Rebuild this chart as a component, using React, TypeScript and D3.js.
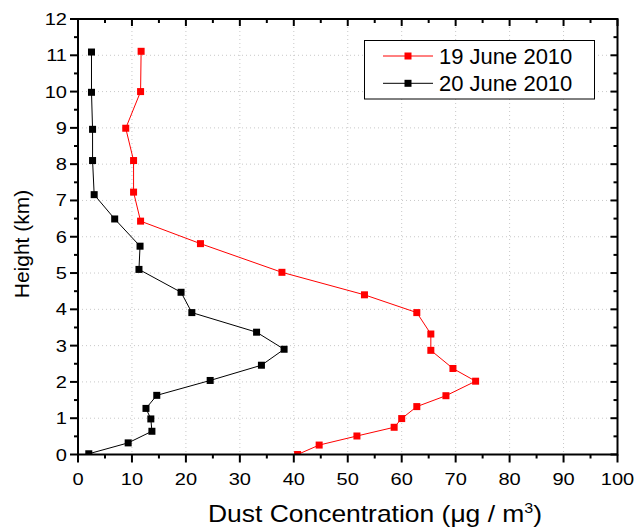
import React from "react";
import * as d3 from "d3";

const heights19 = [0, 0.26, 0.51, 0.75, 0.99, 1.32, 1.62, 2.02, 2.37, 2.87, 3.32, 3.91, 4.4, 5.02, 5.81, 6.43, 7.23, 8.1, 8.99, 10.0, 11.11];
const conc19 = [40.7, 44.7, 51.7, 58.6, 60.0, 62.8, 68.2, 73.7, 69.5, 65.4, 65.4, 62.8, 53.1, 37.8, 22.7, 11.6, 10.3, 10.3, 8.85, 11.6, 11.7];

const heights20 = [0.02, 0.32, 0.64, 0.98, 1.27, 1.63, 2.04, 2.46, 2.9, 3.37, 3.91, 4.47, 5.1, 5.74, 6.49, 7.16, 8.1, 8.96, 9.98, 11.09];
const conc20 = [2.0, 9.3, 13.7, 13.5, 12.6, 14.6, 24.5, 34.0, 38.2, 33.1, 21.1, 19.1, 11.3, 11.5, 6.8, 3.0, 2.7, 2.7, 2.5, 2.5];

const xTicks = [0, 10, 20, 30, 40, 50, 60, 70, 80, 90, 100];
const yTicks = [0, 1, 2, 3, 4, 5, 6, 7, 8, 9, 10, 11, 12];
const seriesNames = ["19 June 2010", "20 June 2010"];
const seriesColors = ["#ff0000", "#000000"];

const W = 634, H = 527;
const L = 78, R = 617.5, T = 19, B = 454.5;
const FONT = "'Liberation Sans', Arial, sans-serif";
const SX = 1.18;

export default function App() {
  const x = d3.scaleLinear().domain([0, 100]).range([L, R]);
  const y = d3.scaleLinear().domain([0, 12]).range([B, T]);
  const line = d3.line<[number, number]>().x(d => x(d[0])).y(d => y(d[1]));
  const series = [
    conc19.map((c, i) => [c, heights19[i]] as [number, number]),
    conc20.map((c, i) => [c, heights20[i]] as [number, number]),
  ];
  const xMinor = d3.range(5, 100, 10);
  const yMinor = d3.range(0.5, 12, 1);
  const ms = 7;

  return (
    <div style={{ position: "fixed", left: 0, top: 0 }}>
      <svg width={W} height={H} style={{ display: "block", background: "#fff" }}>
        <defs>
          <clipPath id="plotclip">
            <rect x={L} y={T} width={R - L} height={B - T} />
          </clipPath>
        </defs>
        {/* grid */}
        {xTicks.slice(1, -1).map(t => (
          <line key={"gx" + t} x1={x(t)} x2={x(t)} y1={T} y2={B} stroke="#c8c8c8" strokeWidth={1} strokeDasharray="1,3" />
        ))}
        {yTicks.slice(1, -1).map(t => (
          <line key={"gy" + t} x1={L} x2={R} y1={y(t)} y2={y(t)} stroke="#c8c8c8" strokeWidth={1} strokeDasharray="1,3" />
        ))}
        {/* series */}
        <g clipPath="url(#plotclip)">
          {series.map((s, i) => (
            <g key={"s" + i}>
              <path d={line(s) || ""} fill="none" stroke={seriesColors[i]} strokeWidth={1} />
              {s.map((d, j) => (
                <rect key={j} x={x(d[0]) - ms / 2} y={y(d[1]) - ms / 2} width={ms} height={ms} fill={seriesColors[i]} />
              ))}
            </g>
          ))}
        </g>
        {/* frame */}
        <rect x={L} y={T} width={R - L} height={B - T} fill="none" stroke="#000" strokeWidth={2} />
        {/* bottom ticks outward */}
        {xTicks.map(t => (
          <line key={"bx" + t} x1={x(t)} x2={x(t)} y1={B} y2={B + 8} stroke="#000" strokeWidth={2} />
        ))}
        {xMinor.map(t => (
          <line key={"bmx" + t} x1={x(t)} x2={x(t)} y1={B} y2={B + 4} stroke="#000" strokeWidth={2} />
        ))}
        {/* top ticks inward */}
        {xTicks.map(t => (
          <line key={"tx" + t} x1={x(t)} x2={x(t)} y1={T} y2={T + 7} stroke="#000" strokeWidth={2} />
        ))}
        {xMinor.map(t => (
          <line key={"tmx" + t} x1={x(t)} x2={x(t)} y1={T} y2={T + 4} stroke="#000" strokeWidth={2} />
        ))}
        {/* left ticks outward */}
        {yTicks.map(t => (
          <line key={"ly" + t} x1={L - 8} x2={L} y1={y(t)} y2={y(t)} stroke="#000" strokeWidth={2} />
        ))}
        {yMinor.map(t => (
          <line key={"lmy" + t} x1={L - 4} x2={L} y1={y(t)} y2={y(t)} stroke="#000" strokeWidth={2} />
        ))}
        {/* right ticks inward */}
        {yTicks.map(t => (
          <line key={"ry" + t} x1={R - 7} x2={R} y1={y(t)} y2={y(t)} stroke="#000" strokeWidth={2} />
        ))}
        {yMinor.map(t => (
          <line key={"rmy" + t} x1={R - 4} x2={R} y1={y(t)} y2={y(t)} stroke="#000" strokeWidth={2} />
        ))}
        {/* tick labels */}
        {xTicks.map(t => (
          <text key={"xl" + t} transform={`translate(${x(t)},485) scale(${SX},1)`} textAnchor="middle" fontFamily={FONT} fontSize={17} fill="#000">{t}</text>
        ))}
        {yTicks.map(t => (
          <text key={"yl" + t} transform={`translate(67,${y(t) + 6}) scale(${SX},1)`} textAnchor="end" fontFamily={FONT} fontSize={17} fill="#000">{t}</text>
        ))}
        {/* axis titles */}
        <text transform="translate(208,522) scale(1.15,1)" fontFamily={FONT} fontSize={23} fill="#000">
          Dust Concentration (μg / m<tspan dy={-9} fontSize={14}>3</tspan><tspan dy={9}>)</tspan>
        </text>
        <text transform={`translate(28.5,244) rotate(-90)`} textAnchor="middle" fontFamily={FONT} fontSize={21} fill="#000">Height (km)</text>
        {/* legend */}
        <rect x={364.5} y={40.5} width={230} height={58.5} fill="#fff" stroke="#000" strokeWidth={1} />
        {seriesNames.map((n, i) => {
          const ly = 56 + i * 27.3;
          return (
            <g key={"lg" + i}>
              <line x1={383} x2={433} y1={ly} y2={ly} stroke={seriesColors[i]} strokeWidth={1} />
              <rect x={408 - ms / 2} y={ly - ms / 2} width={ms} height={ms} fill={seriesColors[i]} />
              <text x={439} y={ly + 8} fontFamily={FONT} fontSize={22} fill="#000">{n}</text>
            </g>
          );
        })}
      </svg>
    </div>
  );
}
